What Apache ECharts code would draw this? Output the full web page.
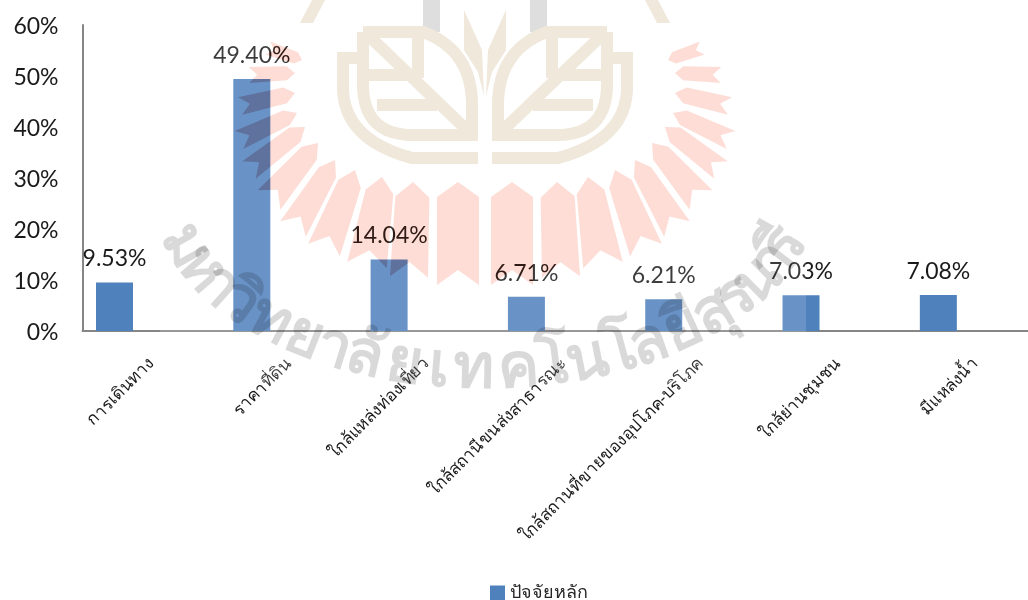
<!DOCTYPE html>
<html><head><meta charset="utf-8">
<style>html,body{margin:0;padding:0;background:#fff}#c{width:1028px;height:600px}</style>
<script src="https://cdn.jsdelivr.net/npm/echarts@6/dist/echarts.min.js"></script>
</head><body><div id="c"></div>
<script>
const categories = ['การเดินทาง','ราคาที่ดิน','ใกล้แหล่งท่องเที่ยว','ใกล้สถานีขนส่งสาธารณะ','ใกล้สถานที่ขายของอุปโภค-บริโภค','ใกล้ย่านชุมชน','มีแหล่งน้ำ'];
const values = [9.53,49.40,14.04,6.71,6.21,7.03,7.08];
const seriesName = 'ปัจจัยหลัก';
const labelShift = 0.27;
const watermarkClusters = ['ม','ห','า','วิ','ท','ย','า','ลั','ย','เ','ท','ค','โ','น','โ','ล','ยี','สุ','ร','น','า','รี'];
const clusterWeights = [1,1,.6,1,1,1,.6,.9,1,.6,1,1,.6,1,.6,.9,1,.9,.7,1,.6,.8];

const CX = 485;
const rayCenters = [[668,60,702,48],[675,73,721,75],[675,93,730,106],[673,113,731,140],[665,127,721,170],[652,143,701,200],[635,160,677,229],[615,170,646,250],[588,177,603,265],[557,182,561,277],[512,182,512,285]];
const rayOuterHalf = [7,8,9,10,11,15,15,17,20,19,21];
const rayInnerHalf = [6,7,8,8,9,10,10,12,14,17,21];
function rayPoints(r,i,side){
  const dx=r[2]-r[0],dy=r[3]-r[1],L=Math.hypot(dx,dy),ux=dx/L,uy=dy/L,nx=-uy,ny=ux;
  const wi=rayInnerHalf[i],wo=rayOuterHalf[i];
  const s=Math.min(15,L*.18);
  const p=(a,b)=>{const x=r[0]+ux*a+nx*b,y=r[1]+uy*a+ny*b;return [side>0?x:2*CX-x,y];};
  return [p(0,0),p(s,wi),p(L,wo),p(L-s,0),p(L,-wo),p(s,-wi)];
}
const overlay=[];
overlay.push({type:'rect',z:100,shape:{x:160,y:0,width:646,height:385},style:{fill:'rgba(255,255,255,0.15)'}});
rayCenters.forEach((r,i)=>[1,-1].forEach(side=>{
  const points=rayPoints(r,i,side);
  overlay.push({type:'polygon',z:101,shape:{points},style:{fill:'rgb(240,220,215)',blend:'color-burn'}});
  overlay.push({type:'polygon',z:102,shape:{points},style:{fill:'#fdddd6',blend:'multiply'}});
}));
const cream='#efe8db';
function q(p0,c,p1){const o=[];for(let k=0;k<=12;k++){const t=k/12,u=1-t;o.push([u*u*p0[0]+2*u*t*c[0]+t*t*p1[0],u*u*p0[1]+2*u*t*c[1]+t*t*p1[1]]);}return o;}
const leafLines=[
 [[362,58],[343,58],[343,90]].concat(q([343,90],[345,140],[412,158])).concat([[478,158]]),
 [[363,32],[423,32]].concat(q([423,32],[472,50],[472,105])).concat([[472,134]]),
 [[363,32],[363,88]].concat(q([363,88],[365,135],[413,135])).concat([[478,135]]),
 [[370,37],[470,133]],[[418,33],[418,78]],[[368,75],[410,75]],[[377,105],[437,105]]
];
[1,-1].forEach(side=>{
  const m=x=>side>0?x:2*CX-x;
  leafLines.forEach(pts=>overlay.push({type:'polyline',z:103,shape:{points:pts.map(p=>[m(p[0]),p[1]])},style:{fill:'none',stroke:cream,lineWidth:12}}));
  overlay.push({type:'polygon',z:103,shape:{points:[[m(464,10),10],[m(482,50),50],[m(484,96),96],[m(478,72),72],[m(464,50),50]]},style:{fill:cream}});
  overlay.push({type:'polygon',z:103,shape:{points:[[m(300,23),23],[m(312,0),0],[m(325,0),0],[m(313,23),23]]},style:{fill:cream}});
  overlay.push({type:'rect',z:99,shape:{x:side>0?423:2*CX-440,y:0,width:17,height:32},style:{fill:'#d9d9d9'}});
});
const totalWeight=clusterWeights.reduce((s,w)=>s+w,0)-(clusterWeights[0]+clusterWeights[clusterWeights.length-1])/2;
let walked=0;
watermarkClusters.forEach((t,i)=>{
  if(i>0) walked+=(clusterWeights[i-1]+clusterWeights[i])/2;
  const a=(162-(walked/totalWeight)*144)*Math.PI/180;
  const x=CX+315*Math.cos(a), y=190+180*Math.sin(a);
  const tangent=Math.atan2(180*Math.cos(a),315*Math.sin(a));
  overlay.push({type:'text',z:104,x,y,rotation:tangent,style:{text:t,fill:'rgba(0,0,0,0.15)',font:'bold 62px "Noto Sans","Open Sans",sans-serif',align:'center',verticalAlign:'middle'}});
});

const chart=echarts.init(document.getElementById('c'));
chart.setOption({
  backgroundColor:'#fff',animation:false,
  textStyle:{fontFamily:'Lato,"Noto Sans",sans-serif'},
  legend:{left:490,top:584,itemWidth:15,itemHeight:15,itemGap:6,padding:0,icon:'rect',data:[seriesName],textStyle:{fontSize:18,color:'#262626',fontFamily:'"Noto Sans",sans-serif'}},
  grid:{left:82.5,top:25,width:945.5,height:306},
  xAxis:{type:'value',min:-0.233,max:6.653,splitLine:{show:false},
    axisLine:{onZero:false,lineStyle:{color:'#868686',width:2}},axisTick:{show:false},
    axisLabel:{rotate:45,margin:30,fontSize:17,color:'#1a1a1a',fontFamily:'"Noto Sans",sans-serif',hideOverlap:false,
      customValues:categories.map((_,i)=>i+labelShift),
      formatter:v=>categories[Math.round(v-labelShift)]}},
  yAxis:{type:'value',min:0,max:60,interval:10,splitLine:{show:false},
    axisLine:{show:true,onZero:false,lineStyle:{color:'#868686',width:2}},axisTick:{show:false},
    axisLabel:{margin:24,formatter:'{a|{value}%}',rich:{a:{fontSize:23,color:'#1a1a1a',padding:[3,0,0,0]}}}},
  series:[{name:seriesName,type:'bar',barWidth:37,itemStyle:{color:'#4f81bd'},
    data:values.map((v,i)=>[i,v]),
    label:{show:true,position:'top',distance:12,fontSize:23,color:'#1a1a1a',formatter:p=>p.value[1].toFixed(2)+'%'}}],
  graphic:{elements:overlay}
});
</script></body></html>
